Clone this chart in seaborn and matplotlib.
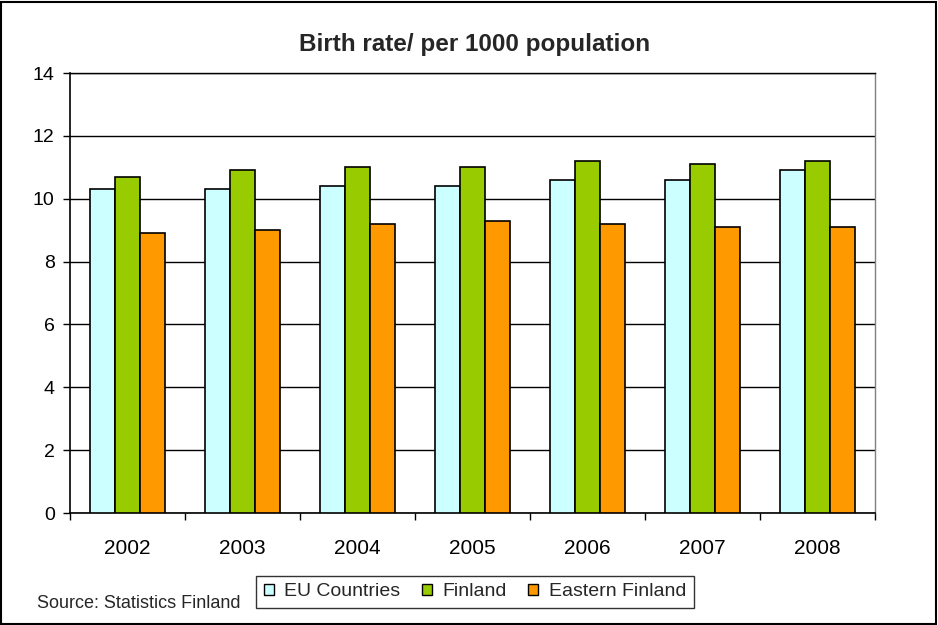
import pandas as pd
import matplotlib.pyplot as plt
import seaborn as sns
from matplotlib.patches import Rectangle

years = ["2002", "2003", "2004", "2005", "2006", "2007", "2008"]
eu_countries = [10.3, 10.3, 10.4, 10.4, 10.6, 10.6, 10.9]
finland = [10.7, 10.9, 11.0, 11.0, 11.2, 11.1, 11.2]
eastern_finland = [8.9, 9.0, 9.2, 9.3, 9.2, 9.1, 9.1]

series_names = ["EU Countries", "Finland", "Eastern Finland"]
colors = ["#CCFFFF", "#99CC00", "#FF9900"]

df = pd.DataFrame({"year": years, "EU Countries": eu_countries,
                   "Finland": finland, "Eastern Finland": eastern_finland})
df_long = df.melt(id_vars="year", var_name="series", value_name="rate")

sns.set_theme(style="white")
plt.rcParams['font.family'] = ['Liberation Sans', 'DejaVu Sans']

fig = plt.figure(figsize=(9.38, 6.25), dpi=100)
ax = fig.add_axes([70 / 938, 112 / 625, 805 / 938, 440 / 625])

sns.barplot(data=df_long, x="year", y="rate", hue="series", hue_order=series_names,
            palette=colors, width=0.655, edgecolor="black", linewidth=1.2,
            saturation=1, errorbar=None, ax=ax, zorder=3)

ax.set_ylim(0, 14)
ax.set_xlim(-0.5, 6.5)
ax.set_yticks(range(0, 15, 2))
ax.yaxis.grid(True, color="black", linewidth=1, zorder=0)
ax.set_axisbelow(True)
ax.set_xlabel("")
ax.set_ylabel("")
ax.tick_params(axis="y", labelsize=14, colors="black", left=True, length=5, width=1, pad=6)
ax.tick_params(axis="x", which="major", labelsize=15, colors="black", bottom=False, pad=13)
ax.set_xticks([i + 0.5 for i in range(-1, 7)], minor=True)
ax.tick_params(axis="x", which="minor", bottom=True, length=5, width=1, colors="black")

for side in ["left", "bottom"]:
    ax.spines[side].set_color("black")
    ax.spines[side].set_linewidth(1.2)
ax.spines["right"].set_color("#808080")
ax.spines["right"].set_linewidth(1)
ax.spines["top"].set_color("black")
ax.spines["top"].set_linewidth(1)

ax.get_legend().remove()
handles = [Rectangle((0, 0), 1, 1, facecolor=c, edgecolor="black", linewidth=1) for c in colors]
leg = fig.legend(handles, series_names, loc="center", bbox_to_anchor=(475 / 938, 0.053),
                 ncol=3, fontsize=14, frameon=True, fancybox=False, edgecolor="black",
                 handlelength=0.5, handleheight=0.5, handletextpad=0.55, columnspacing=1.1,
                 borderpad=0.4)
leg.get_frame().set_linewidth(1)

fig.text(475 / 938, 1 - 45 / 625, "Birth rate/ per 1000 population", ha="center", va="center",
         fontsize=17.5, fontweight="bold")
fig.text(37 / 938, 1 - 604 / 625, "Source: Statistics Finland", ha="left", va="center",
         fontsize=13)

fig.patches.append(Rectangle((0.001, 0.0015), 0.997, 0.996, transform=fig.transFigure,
                             fill=False, edgecolor="black", linewidth=1.5))

fig.savefig("out.png", dpi=100)
